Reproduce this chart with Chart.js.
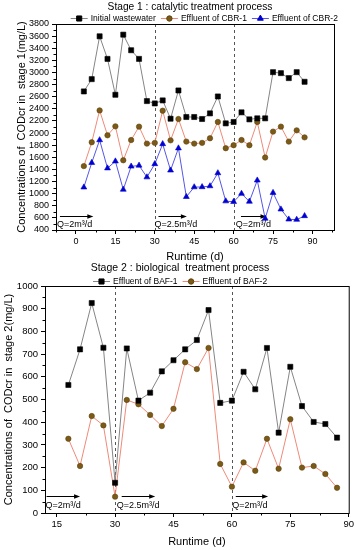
<!DOCTYPE html>
<html><head><meta charset="utf-8">
<script src="https://cdn.jsdelivr.net/npm/chart.js@4.4.1/dist/chart.umd.min.js"></script>
<style>
html,body{margin:0;padding:0;background:#fff;}
#wrap{position:relative;width:356px;height:550px;overflow:hidden;}
canvas{position:absolute;left:0;}
#c1{top:0}
#c2{top:262px}
</style></head><body>
<div id="wrap"><canvas id="c1" width="356" height="264"></canvas><canvas id="c2" width="356" height="288"></canvas></div>
<script>
// stage 1: catalytic treatment (mg/L)
const days1 = [3,6,9,12,15,18,21,24,27,30,33,36,39,42,45,48,51,54,57,60,63,66,69,72,75,78,81,84,87];
const initialWW = [2687,2890,3597,3224,2632,3624,3367,3224,2528,2489,2539,2237,2703,2265,2265,2232,2325,2604,2160,2183,2342,2226,2243,2243,3005,2989,2907,3005,2846];
const cbr1 = [1455,1848,2374,1963,2111,1551,1885,2106,1826,1838,2369,1880,2232,1859,1826,1838,1914,2183,1750,1799,1885,1799,2183,1596,2024,2106,1859,2045,1929];
const cbr2 = [1105,1510,1885,1420,1535,1068,1450,1465,1272,1490,1820,1385,1750,948,1108,1110,1125,1340,876,866,1000,870,1220,590,1015,742,576,572,632];
// stage 2: biological treatment (mg/L)
const days2 = [18,21,24,27,30,33,36,39,42,45,48,51,54,57,60,63,66,69,72,75,78,81,84,87];
const baf1 = [564,721,925,728,133,725,495,530,624,673,721,762,894,485,495,622,545,727,354,644,471,401,392,332];
const baf2 = [327,207,427,386,72,498,479,432,383,459,664,634,727,216,116,223,186,327,195,413,200,207,172,111];
// flow-rate periods
const switchDays = [30,60];
const flowLabels = ['Q=2m³/d','Q=2.5m³/d','Q=2m³/d'];

const FONT = 'Arial, "Liberation Sans", sans-serif';

function pts(xs, ys){ return xs.map((d,i)=>({x:d, y:ys[i]})); }

const styles = {
  square:{ borderColor:'#858585', pointStyle:'rect', pointRadius:3.6, pointBackgroundColor:'#000', pointBorderColor:'#000' },
  circle:{ borderColor:'#ef8a78', pointStyle:'circle', pointRadius:2.7, pointBackgroundColor:'#7b5a17', pointBorderColor:'#5e430c' },
  tri:{ borderColor:'#5656e6', pointStyle:'triangle', pointRadius:3.4, pointBackgroundColor:'#0000d0', pointBorderColor:'#0000d0' }
};

function ds(label, xs, ys, st){
  return Object.assign({ label, data:pts(xs,ys), borderWidth:1, tension:0, pointBorderWidth:0.6, pointHoverRadius:3 }, st);
}

function arrowLine(ctx, x0, x1, y){
  ctx.beginPath(); ctx.moveTo(x0, y); ctx.lineTo(x1-4, y); ctx.stroke();
  ctx.beginPath(); ctx.moveTo(x1, y); ctx.lineTo(x1-6, y-2.2); ctx.lineTo(x1-6, y+2.2); ctx.closePath(); ctx.fill();
}

const decor = {
  id:'decor',
  beforeDatasetsDraw(chart, args, o){
    const {ctx, chartArea:a, scales:{x,y}} = chart;
    ctx.save();
    ctx.strokeStyle='#555'; ctx.lineWidth=1; ctx.setLineDash([3,3]);
    switchDays.forEach(d=>{
      const px = Math.round(x.getPixelForValue(d))+0.5;
      ctx.beginPath(); ctx.moveTo(px, a.top); ctx.lineTo(px, a.bottom); ctx.stroke();
    });
    ctx.setLineDash([]);
    ctx.strokeStyle='#000'; ctx.fillStyle='#000'; ctx.lineWidth=1;
    ctx.font = o.qFont+'px '+FONT; ctx.textBaseline='middle'; ctx.textAlign='left';
    o.arrows.forEach((ar,i)=>{
      const ay = Math.round(y.getPixelForValue(o.arrowY))+0.5;
      arrowLine(ctx, x.getPixelForValue(ar.from), x.getPixelForValue(ar.to), ay);
      ctx.fillText(flowLabels[i], x.getPixelForValue(ar.textAt), y.getPixelForValue(o.textY));
    });
    ctx.restore();
  },
  afterDraw(chart, args, o){
    const {ctx, chartArea:a, scales:{x,y}} = chart;
    ctx.save();
    ctx.strokeStyle='#000'; ctx.lineWidth=1;
    ctx.strokeRect(a.left+0.5, a.top+0.5, a.right-a.left, a.bottom-a.top);
    // minor ticks
    ctx.beginPath();
    for(let v=o.xMinorStart; v<=x.max; v+=o.xMinor){
      const px=Math.round(x.getPixelForValue(v))+0.5;
      ctx.moveTo(px, a.bottom); ctx.lineTo(px, a.bottom+2.5);
    }
    for(let v=y.min+o.yMinor; v<y.max; v+=o.yMinor*2){
      const py=Math.round(y.getPixelForValue(v))+0.5;
      ctx.moveTo(a.left, py); ctx.lineTo(a.left-2.5, py);
    }
    ctx.stroke();
    // title
    ctx.fillStyle='#000'; ctx.textBaseline='middle'; ctx.textAlign='center';
    ctx.font = o.titleFont+'px '+FONT;
    ctx.fillText(o.title, o.titleX, o.titleY);
    // legend
    let lx = o.legendX; const ly = o.legendY;
    ctx.font = o.legendFont+'px '+FONT; ctx.textAlign='left';
    chart.data.datasets.forEach(d=>{
      ctx.strokeStyle=d.borderColor; ctx.lineWidth=1;
      ctx.beginPath(); ctx.moveTo(lx, ly+0.5); ctx.lineTo(lx+17, ly+0.5); ctx.stroke();
      ctx.fillStyle=d.pointBackgroundColor; ctx.strokeStyle=d.pointBorderColor;
      Chart.helpers.drawPoint(ctx, {pointStyle:d.pointStyle, radius:d.pointRadius, borderWidth:d.pointBorderWidth, rotation:0}, lx+8.5, ly+0.5);
      ctx.fillStyle='#000';
      ctx.fillText(d.label, lx+20, ly+0.5);
      lx += 20 + ctx.measureText(d.label).width + 5;
    });
    ctx.restore();
  }
};

function makeChart(id, datasets, cfg){
  return new Chart(document.getElementById(id), {
    type:'line',
    data:{ datasets },
    plugins:[decor],
    options:{
      responsive:false, animation:false, devicePixelRatio:1,
      layout:{ padding:{ top:24, right:cfg.padRight, left:0, bottom:0 } },
      plugins:{ legend:{display:false}, tooltip:{enabled:false}, decor:cfg.decor },
      scales:{
        x:{ type:'linear', min:cfg.xMin, max:cfg.xMax,
            afterFit:s=>{ s.height = cfg.xHeight; },
            grid:{ display:true, drawOnChartArea:false, drawTicks:true, tickLength:4, color:'#000' },
            border:{ color:'#000' },
            ticks:{ stepSize:15, includeBounds:false, maxRotation:0, autoSkip:false, color:'#000', padding:2,
                    font:{ family:FONT, size:cfg.tickFont }, callback:v=>String(v) },
            title:{ display:true, text:'Runtime (d)', color:'#000', font:{ family:FONT, size:cfg.axisFont }, padding:{ top:0, bottom:cfg.xTitlePad } } },
        y:{ min:cfg.yMin, max:cfg.yMax,
            afterFit:s=>{ s.width = cfg.yWidth; },
            grid:{ display:true, drawOnChartArea:false, drawTicks:true, tickLength:4, color:'#000' },
            border:{ color:'#000' },
            ticks:{ stepSize:cfg.yStep, autoSkip:false, color:'#000', padding:3,
                    font:{ family:FONT, size:cfg.tickFont }, callback:v=>String(v) },
            title:{ display:true, text:cfg.yTitle, color:'#000', font:{ family:FONT, size:cfg.axisFont }, padding:{ top:cfg.yTitlePad, bottom:0 } } }
      }
    }
  });
}

makeChart('c1', [
  ds('Initial wastewater', days1, initialWW, styles.square),
  ds('Effluent of CBR-1', days1, cbr1, styles.circle),
  ds('Effluent of CBR-2', days1, cbr2, styles.tri)
], {
  xMin:-7.6, xMax:98.2, yMin:400, yMax:3800, yStep:200, padRight:22, xHeight:34, yWidth:56,
  tickFont:9, axisFont:11, xTitlePad:0, yTitlePad:15,
  yTitle:'Concentrations of  CODcr in  stage 1(mg/L)',
  decor:{ title:'Stage 1 : catalytic treatment process', titleX:190, titleY:7, titleFont:10.2,
          legendX:70.7, legendY:18, legendFont:8.5, qFont:9,
          xMinorStart:-7.5, xMinor:15, yMinor:100,
          arrowY:626, textY:495,
          arrows:[{from:-6.1,to:6.6,textAt:-7.2},{from:31.4,to:42.2,textAt:29.9},{from:62.8,to:72.5,textAt:60.8}] }
});

makeChart('c2', [
  ds('Effluent of BAF-1', days2, baf1, styles.square),
  ds('Effluent of BAF-2', days2, baf2, styles.circle)
], {
  xMin:12, xMax:90, yMin:0, yMax:1000, yStep:100, padRight:7, xHeight:37, yWidth:45,
  tickFont:9.5, axisFont:11, xTitlePad:1.5, yTitlePad:2,
  yTitle:'Concentrations of  CODcr in  stage 2(mg/L)',
  decor:{ title:'Stage 2 : biological  treatment process', titleX:180, titleY:6, titleFont:10.5,
          legendX:93, legendY:19, legendFont:8.5, qFont:9,
          xMinorStart:22.5, xMinor:15, yMinor:50,
          arrowY:75, textY:35,
          arrows:[{from:12.4,to:21,textAt:12.1},{from:31.7,to:40.3,textAt:30.4},{from:61,to:69.3,textAt:60.1}] }
});
</script>
</body></html>
